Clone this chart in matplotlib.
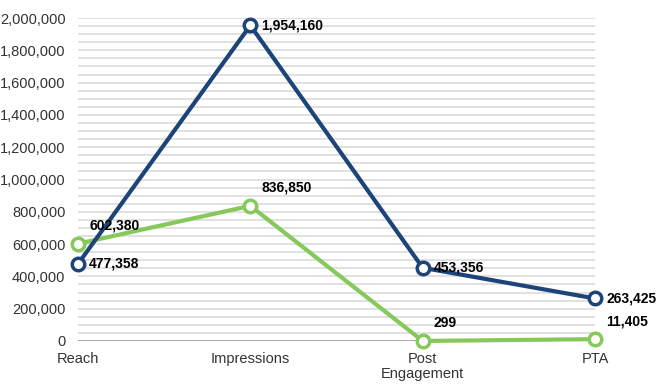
import numpy as np
import matplotlib.pyplot as plt

categorias = ["Reach", "Impressions", "Post\nEngagement", "PTA"]
azul = [477358, 1954160, 453356, 263425]
verde = [602380, 836850, 299, 11405]
yticks = list(range(0, 2000001, 200000))

plt.rcParams['font.family'] = ['Liberation Sans', 'DejaVu Sans']

fig = plt.figure(figsize=(6.57, 3.84), dpi=100)
ax = fig.add_axes([78/657, 1-341/384, (595-78)/657, (341-18)/384])

x = np.arange(len(categorias))

# grid cada 50,000
for g in range(50000, 2000001, 50000):
    ax.axhline(g, color="#dcdcdc", lw=1.2, zorder=0)
ax.axhline(0, color="#a0a0a0", lw=2, zorder=1)

ax.plot(x, verde, "-o", color="#86c95a", lw=3, ms=9, mfc="white", mew=2.5, zorder=3, clip_on=False)
ax.plot(x, azul, "-o", color="#1d4479", lw=3, ms=9, mfc="white", mew=2.5, zorder=4, clip_on=False)

for xi, v in zip(x, azul):
    ax.annotate(f"{v:,}", (xi, v), xytext=(8, 0), textcoords="offset points",
                ha="left", va="center", fontsize=10, fontweight="bold", zorder=5)
for xi, v in zip(x, verde):
    ax.annotate(f"{v:,}", (xi, v), xytext=(8, 13), textcoords="offset points",
                ha="left", va="center", fontsize=10, fontweight="bold", zorder=5)

ax.set_xlim(0, 3)
ax.set_ylim(0, 2000000)
ax.set_xticks(x)
ax.set_xticklabels(categorias, fontsize=10.5, color="#333333", linespacing=1.1)
ax.set_yticks(yticks)
ax.set_yticklabels([f"{t:,}" for t in yticks], fontsize=10.5, color="#333333")
ax.tick_params(length=0, pad=9)
ax.tick_params(axis="x", pad=8)
for s in ax.spines.values():
    s.set_visible(False)

fig.savefig("out.png", dpi=100)
